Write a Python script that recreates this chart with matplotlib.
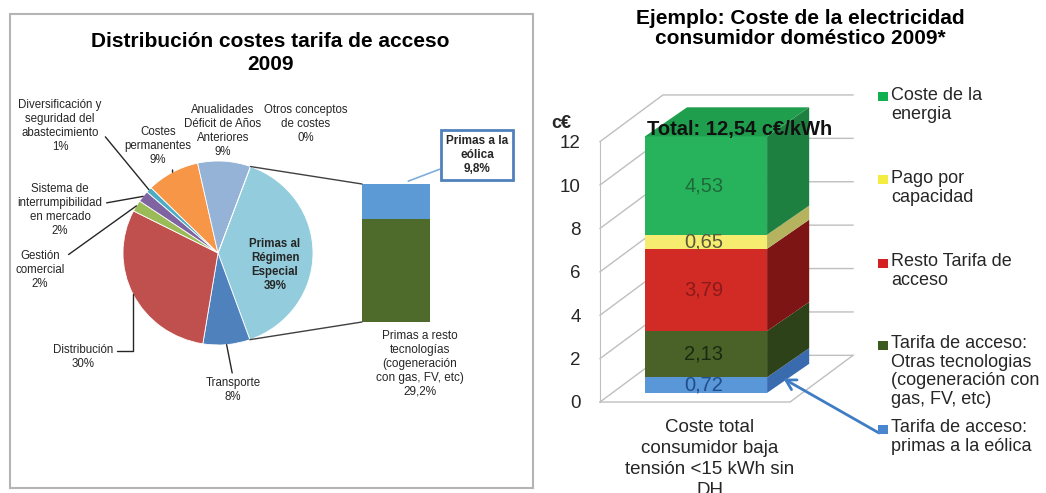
import numpy as np
import matplotlib.pyplot as plt
from matplotlib.patches import Rectangle, Polygon, ConnectionPatch

plt.rcParams['font.family'] = ['Liberation Sans', 'DejaVu Sans']

# ---- left chart: distribution of access tariff costs (pie + bar of pie)
pie_labels = ['Primas al\nRégimen\nEspecial', 'Transporte', 'Distribución',
              'Gestión\ncomercial', 'Sistema de\ninterrumpibilidad\nen mercado',
              'Diversificación y\nseguridad del\nabastecimiento',
              'Costes\npermanentes', 'Anualidades\nDéficit de Años\nAnteriores',
              'Otros conceptos\nde costes']
pie_values = [39, 8, 30, 2, 2, 1, 9, 9, 0]
pie_colors = ['#93CDDD', '#4F81BD', '#C0504D', '#9BBB59', '#8064A2',
              '#4BACC6', '#F79646', '#95B3D7', '#DDDDDD']

primas_labels = ['Primas a resto\ntecnologías\n(cogeneración\ncon gas, FV, etc)',
                 'Primas a la\neólica']
primas_values = [29.2, 9.8]
primas_colors = ['#4F6B2C', '#5B9AD5']

# ---- right chart: domestic consumer electricity cost 2009
bar_category = 'Coste total\nconsumidor baja\ntensión <15 kWh sin\nDH'
stack_labels = ['Tarifa de acceso:\nprimas a la eólica',
                'Tarifa de acceso:\nOtras tecnologias\n(cogeneración con\ngas, FV, etc)',
                'Resto Tarifa de\nacceso', 'Pago por\ncapacidad', 'Coste de la\nenergia']
stack_values = [0.72, 2.13, 3.79, 0.65, 4.53]
total_label = 'Total: 12,54 c€/kWh'
y_ticks = [0, 2, 4, 6, 8, 10, 12]

front_colors = ['#5A97D8', '#4A6128', '#D22A24', '#F6EC70', '#27B25C']
side_colors = ['#3A6BAE', '#2E4219', '#7E1515', '#B5B35E', '#1E8040']
text_colors = ['#1F4E8A', '#1A2A10', '#8B1A1A', '#5A5A3A', '#1E6B38']
legend_colors = ['#4A86D0', '#3C5A1E', '#D42020', '#F4EC40', '#10B050']

W, H = 1046, 493
fig = plt.figure(figsize=(W / 100, H / 100), dpi=100)


def box(x, y, w, h):
    """Pixel box (top-left origin) -> figure fraction rect."""
    return [x / W, 1 - (y + h) / H, w / W, h / H]


def fpx(x, y):
    return (x / W, 1 - y / H)


# ================= LEFT PANEL =================
fig.add_artist(Rectangle(fpx(10, 488), 523 / W, 474 / H, transform=fig.transFigure,
                         fill=False, ec='#B4B4B4', lw=1.5))
fig.text(*fpx(270, 53), 'Distribución costes tarifa de acceso\n2009', ha='center',
         va='center', fontsize=15, fontweight='bold', linespacing=1.25)

ax_pie = fig.add_axes(box(218 - 95, 253 - 92, 190, 184))
wedges, _ = ax_pie.pie(pie_values, colors=pie_colors, startangle=70,
                       counterclock=False,
                       wedgeprops=dict(edgecolor='white', linewidth=0.6))
ax_pie.set_xlim(-1, 1)
ax_pie.set_ylim(-1, 1)
ax_pie.set_aspect('auto')
ax_pie.axis('off')

# label layout: (x, y) centre in px, relpos of leader (None = no leader)
label_pos = [(275, 265), (233, 390), (83, 357), (40, 270), (60, 210),
             (60, 126), (158, 146), (223, 131), (306, 124)]
label_rel = [None, (0.5, 1.0), (1.0, 0.75), (1.0, 0.82), (1.0, 0.62),
             (1.0, 0.38), (0.72, 0.12), None, None]

for i, (w, lab, val) in enumerate(zip(wedges, pie_labels, pie_values)):
    mid = np.deg2rad((w.theta1 + w.theta2) / 2)
    px, py = label_pos[i]
    txt = f'{lab}\n{val}%'
    bold = 'bold' if i == 0 else 'normal'
    if label_rel[i] is None:
        fig.text(*fpx(px, py), txt, ha='center', va='center', fontsize=8.3,
                 fontweight=bold, color='#262626', linespacing=1.2)
        continue
    cs = 'angle,angleA=0,angleB=90,rad=0' if i == 2 else 'arc3'
    ax_pie.annotate(txt, xy=(np.cos(mid), np.sin(mid)), xycoords='data',
                    xytext=(px, H - py), textcoords='figure pixels',
                    ha='center', va='center', fontsize=8.3, color='#262626',
                    linespacing=1.2, annotation_clip=False,
                    arrowprops=dict(arrowstyle='-', color='#262626', lw=1,
                                    shrinkA=1, shrinkB=0, relpos=label_rel[i],
                                    connectionstyle=cs))

# bar of pie for "Primas al Régimen Especial"
ax_bop = fig.add_axes(box(362, 184, 68, 138))
bottom = 0
for v, c in zip(primas_values, primas_colors):
    ax_bop.bar(0, v, bottom=bottom, width=1, color=c)
    bottom += v
ax_bop.set_xlim(-0.5, 0.5)
ax_bop.set_ylim(0, sum(primas_values))
ax_bop.axis('off')

w0 = wedges[0]
for ang, yb in [(w0.theta2, sum(primas_values)), (w0.theta1, 0)]:
    a = np.deg2rad(ang)
    con = ConnectionPatch(xyA=(np.cos(a), np.sin(a)), coordsA=ax_pie.transData,
                          xyB=(-0.5, yb), coordsB=ax_bop.transData,
                          color='#404040', lw=1)
    fig.add_artist(con)

fmt1 = lambda v: f'{v:.1f}%'.replace('.', ',')
ax_bop.annotate(f'{primas_labels[1]}\n{fmt1(primas_values[1])}',
                xy=(0.18, sum(primas_values) + 0.8), xycoords='data',
                xytext=(477, H - 155), textcoords='figure pixels',
                ha='center', va='center', fontsize=8.5, fontweight='bold',
                color='#262626', linespacing=1.2, annotation_clip=False,
                bbox=dict(boxstyle='square,pad=0.45', fc='white', ec='#4F81BD', lw=2),
                arrowprops=dict(arrowstyle='-', color='#7FAEDD', lw=1.2,
                                shrinkA=0, shrinkB=0, relpos=(0, 0.2)))
fig.text(*fpx(420, 364), f'{primas_labels[0]}\n{fmt1(primas_values[0])}',
         ha='center', va='center', fontsize=8.5, color='#262626', linespacing=1.2)

# ================= RIGHT PANEL =================
fig.text(*fpx(800, 28.5), 'Ejemplo: Coste de la electricidad\nconsumidor doméstico 2009*',
         ha='center', va='center', fontsize=15, fontweight='bold', linespacing=1.1)

u = 21.7  # px per c€
ox, oy = 600, 402
ax3 = fig.add_axes(box(540, 60, 335, 420))
ax3.set_xlim((540 - ox) / u, (875 - ox) / u)
ax3.set_ylim((oy - 480) / u, (oy - 60) / u)

# oblique "3D" walls
dxw, dyw, floor_w = 2.9, 2.15, 8.76
grid_c = '#BFBFBF'
for v in y_ticks:
    ax3.plot([0, dxw, dxw + floor_w], [v, v + dyw, v + dyw], color=grid_c, lw=1)
ax3.plot([0, floor_w, floor_w + dxw], [0, 0, dyw], color=grid_c, lw=1)

for s in ['top', 'right', 'bottom']:
    ax3.spines[s].set_visible(False)
ax3.spines['left'].set_position(('data', 0))
ax3.spines['left'].set_bounds(0, max(y_ticks))
ax3.spines['left'].set_color(grid_c)
ax3.set_yticks(y_ticks)
ax3.set_xticks([])
ax3.tick_params(axis='y', length=0, pad=14, labelsize=13.5, labelcolor='#262626')

# stacked 3D-ish bar
x0, x1, base = 2.07, 7.7, 0.42
ddx, ddy = 1.94, 1.34
bottoms = base + np.concatenate([[0], np.cumsum(stack_values)[:-1]])
ax3.bar((x0 + x1) / 2, stack_values, bottom=bottoms, width=x1 - x0,
        color=front_colors, zorder=3)
for v, b, sc in zip(stack_values, bottoms, side_colors):
    t = b + v
    ax3.add_patch(Polygon([(x1, b), (x1 + ddx, b + ddy), (x1 + ddx, t + ddy), (x1, t)],
                          closed=True, fc=sc, ec='none', zorder=3))
top = bottoms[-1] + stack_values[-1]
ax3.add_patch(Polygon([(x0, top), (x1, top), (x1 + ddx, top + ddy), (x0 + ddx, top + ddy)],
                      closed=True, fc='#1F9F4D', ec='none', zorder=3))

for v, b, tc in zip(stack_values, bottoms, text_colors):
    ax3.text((x0 + x1) / 2 - 0.1, b + v / 2, f'{v:.2f}'.replace('.', ','),
             ha='center', va='center', fontsize=14.5, color=tc, zorder=4)

ax3.text(x0 + 0.1, top + 0.3, total_label, ha='left', va='center',
         fontsize=14.5, fontweight='bold', color='#111111', zorder=5)

fig.text(*fpx(561, 123), 'c€', ha='center', va='center', fontsize=13,
         fontweight='bold', color='#262626')
fig.text(*fpx(710, 419), bar_category, ha='center', va='top', fontsize=13.5,
         color='#262626', linespacing=1.3)

# legend (top entry first)
leg_y = [97, 180, 263, 345, 429]
for yy, lab, c in zip(leg_y, stack_labels[::-1], legend_colors[::-1]):
    fig.add_artist(Rectangle(fpx(878, yy + 4.5), 10 / W, 9 / H,
                             transform=fig.transFigure, fc=c, ec='none'))
    fig.text(*fpx(891, yy - 10), lab, ha='left', va='top', fontsize=13,
             color='#262626', linespacing=1.12)

# blue arrow from legend to the wind-premium slice
ax3.annotate('', xy=(x1 + 0.75, bottoms[0] + stack_values[0] / 2 + 0.3),
             xycoords='data', xytext=(879, H - 433), textcoords='figure pixels',
             annotation_clip=False,
             arrowprops=dict(arrowstyle='->,head_length=0.7,head_width=0.4',
                             color='#3E7CC4', lw=2, shrinkA=0, shrinkB=0))

fig.savefig('out.png', dpi=100)
